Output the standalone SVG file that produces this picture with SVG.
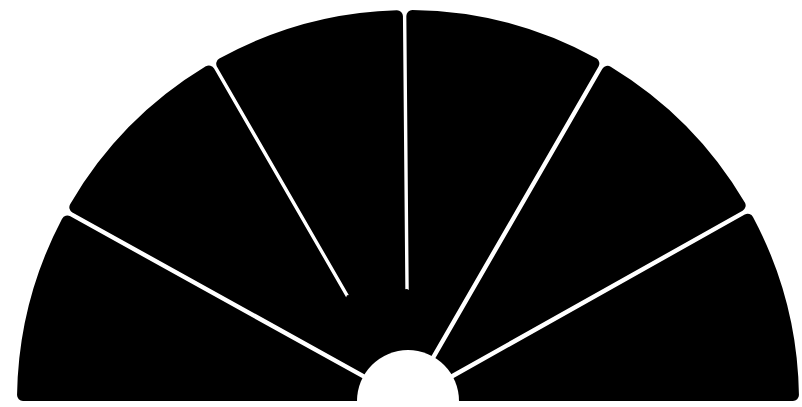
<svg xmlns="http://www.w3.org/2000/svg" width="802" height="407" viewBox="0 0 802 407">
  <style>
    .seg { fill: #000; stroke: #000; stroke-width: 12; stroke-linejoin: round; }
    .hub { fill: #000; }
    .bg { fill: #fff; }
  </style>
  <rect class="bg" x="0" y="0" width="802" height="407"/>
  <g id="segments">
    <path id="seg1" class="seg" d="M 364.66 386.35 L 67.38 221.56 A 385 385 0 0 0 23.05 395 L 363 395 Z"/>
    <path id="seg2" class="seg" d="M 378.83 365.88 L 208.87 71.50 A 385 385 0 0 0 75.33 207.22 L 372.62 372.01 Z"/>
    <path id="seg3" class="seg" d="M 399.91 356.07 L 396.94 16.17 A 385 385 0 0 0 222.21 63.80 L 392.17 358.18 Z"/>
    <path id="seg4" class="seg" d="M 423.4 357.93 L 593.35 63.56 A 385 385 0 0 0 412.34 16.03 L 415.31 355.93 Z"/>
    <path id="seg5" class="seg" d="M 443.23 371.83 L 739.66 205.48 A 385 385 0 0 0 607.56 71.76 L 437.6 366.13 Z"/>
    <path id="seg6" class="seg" d="M 453 395 L 792.95 395 A 385 385 0 0 0 747.68 219.78 L 451.25 386.13 Z"/>
    <polygon id="hub-join" class="hub" points="408,401 448.67,309.64 407.02,289 347,295.34 325.10,345.08"/>
  </g>
  <g id="center">
    <circle cx="408" cy="401" r="51" fill="#fff"/>
    <rect x="0" y="401" width="802" height="6" fill="#fff"/>
  </g>
</svg>
